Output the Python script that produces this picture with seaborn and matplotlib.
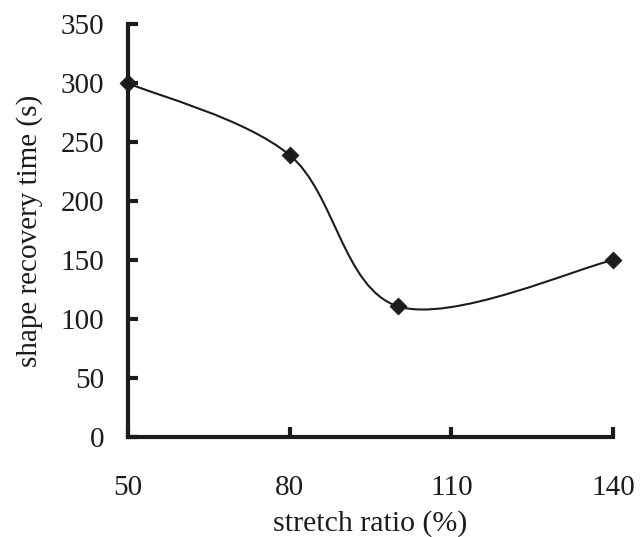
import numpy as np
import pandas as pd
import matplotlib
matplotlib.use('Agg')
import matplotlib.pyplot as plt
import seaborn as sns
from matplotlib.path import Path
from matplotlib.patches import PathPatch

stretch_ratio = [50, 80, 100, 140]
recovery_time = [300, 239, 111, 150]
x_ticks = [50, 80, 110, 140]
y_ticks = [0, 50, 100, 150, 200, 250, 300, 350]

ink = '#1c1c1c'

sns.set_theme(style='white')
plt.rcParams['font.family'] = ['Liberation Serif', 'DejaVu Serif']
plt.rcParams['font.size'] = 21

df = pd.DataFrame({'stretch ratio (%)': stretch_ratio,
                   'shape recovery time (s)': recovery_time})


def smooth_path(xs, ys):
    # Excel-like smoothed line: Catmull-Rom segments as cubic Beziers
    pts = np.column_stack([xs, ys]).astype(float)
    ext = np.vstack([pts[0], pts, pts[-1]])
    verts = [pts[0]]
    codes = [Path.MOVETO]
    for i in range(1, len(ext) - 2):
        p0, p1, p2, p3 = ext[i - 1], ext[i], ext[i + 1], ext[i + 2]
        c1 = p1 + (p2 - p0) / 6.0
        c2 = p2 - (p3 - p1) / 6.0
        verts += [c1, c2, p2]
        codes += [Path.CURVE4] * 3
    return Path(verts, codes)


fig = plt.figure(figsize=(6.4, 5.37), dpi=100)
ax = fig.add_axes([0.2, 0.186, 0.758, 0.769])

ax.add_patch(PathPatch(smooth_path(stretch_ratio, recovery_time),
                       facecolor='none', edgecolor=ink, linewidth=1.5, zorder=2))
sns.scatterplot(data=df, x='stretch ratio (%)', y='shape recovery time (s)',
                marker='D', s=75, color=ink, edgecolor=ink, linewidth=0.5,
                zorder=3, clip_on=False, ax=ax)

ax.set_xlim(50, 140)
ax.set_ylim(0, 350)
ax.set_xticks(x_ticks)
ax.set_yticks(y_ticks)

for side in ['top', 'right']:
    ax.spines[side].set_visible(False)
for side in ['left', 'bottom']:
    ax.spines[side].set_linewidth(3)
    ax.spines[side].set_color(ink)

ax.tick_params(axis='x', bottom=True, direction='in', length=7, width=3, color=ink,
               pad=27, labelsize=21, labelcolor=ink)
ax.tick_params(axis='y', left=True, direction='in', length=7, width=3, color=ink,
               pad=17, labelsize=21, labelcolor=ink)
ax.set_xlabel('stretch ratio (%)', fontsize=21.5, color=ink, labelpad=7)
ax.set_ylabel('shape recovery time (s)', fontsize=21, color=ink, labelpad=13)
ax.grid(False)

fig.savefig('out.png', dpi=100)
